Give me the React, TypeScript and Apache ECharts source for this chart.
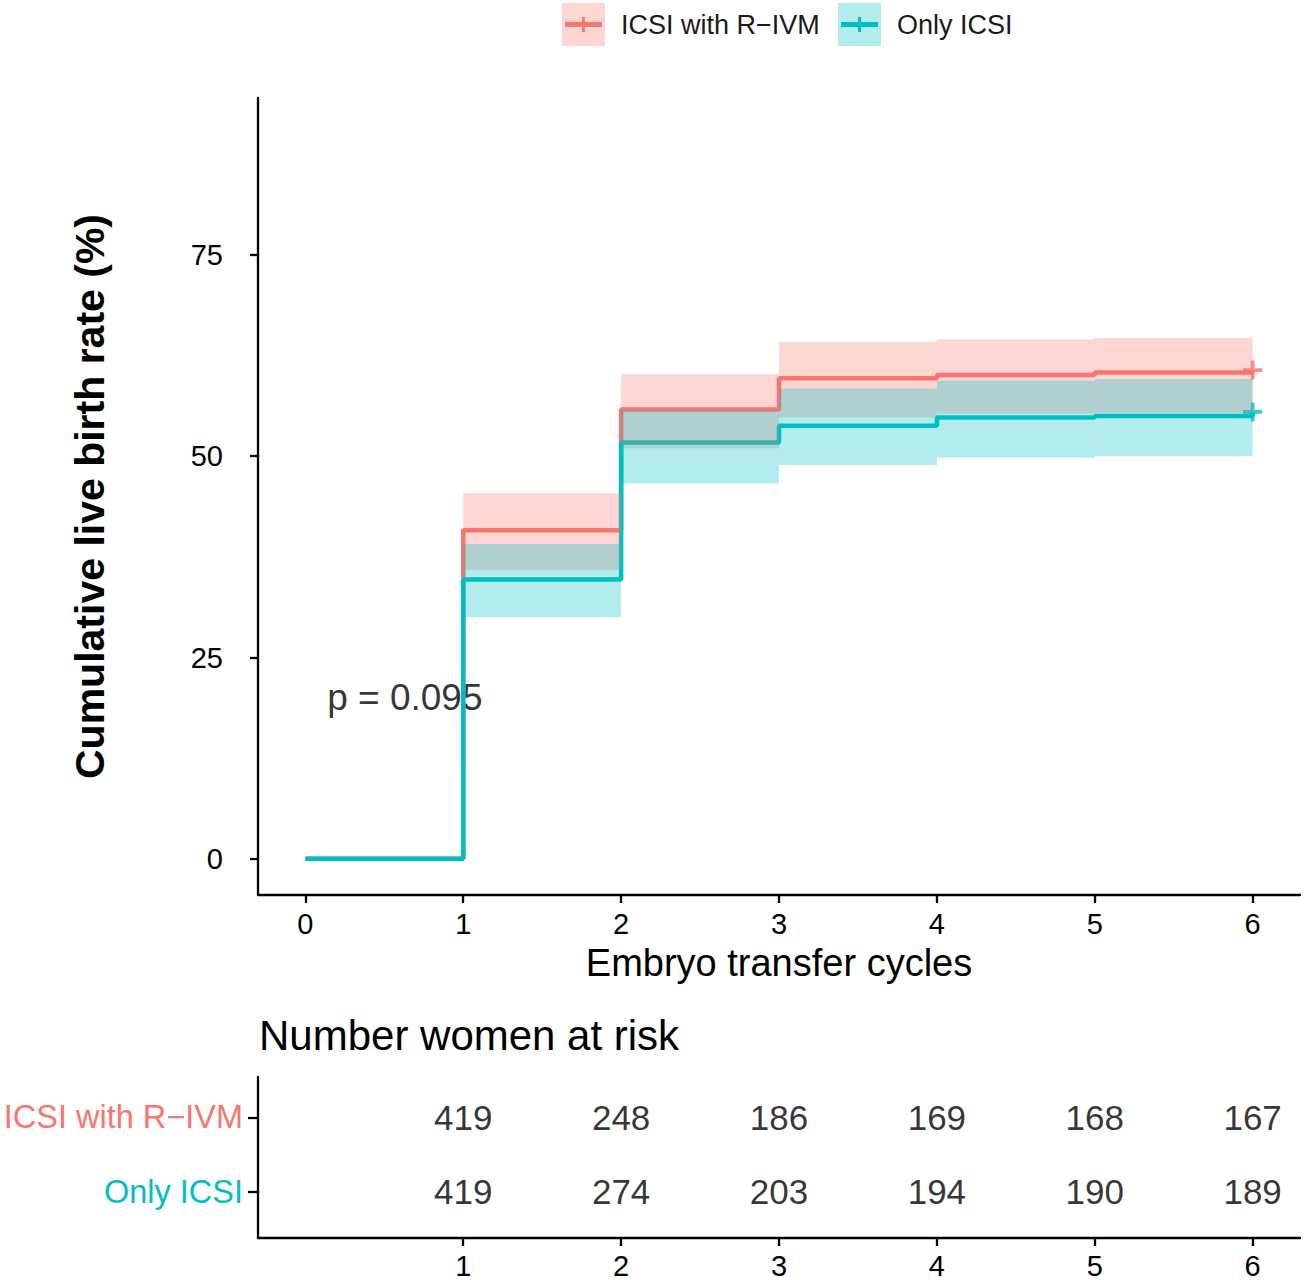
import React, { useEffect, useRef } from "react";
import * as echarts from "echarts";

// ---- data ----
const groupNames = ["ICSI with R−IVM", "Only ICSI"];
const groupColors = ["#F8766D", "#00BFC4"];
const groupBands = ["rgba(248,118,109,0.3)", "rgba(0,191,196,0.3)"];

const times = [0, 1, 2, 3, 4, 5, 6];
const ivmRate = [0, 40.8, 55.8, 59.7, 60.1, 60.4, 60.7];
const icsiRate = [0, 34.7, 51.7, 53.8, 54.8, 55.0, 55.5];

const bandStart = [1, 2, 3, 4, 5];
const bandEnd = [2, 3, 4, 5, 6];
const ivmUpper = [45.4, 60.2, 64.2, 64.5, 64.7];
const ivmLower = [35.9, 51.0, 54.8, 55.3, 55.4];
const icsiUpper = [39.1, 55.7, 58.4, 59.4, 59.6];
const icsiLower = [30.0, 46.6, 48.9, 49.8, 50.0];

const xTicks = [0, 1, 2, 3, 4, 5, 6];
const yTicks = [0, 25, 50, 75];

const riskTimes = [1, 2, 3, 4, 5, 6];
const ivmRisk = [419, 248, 186, 169, 168, 167];
const icsiRisk = [419, 274, 203, 194, 190, 189];

const pValueText = "p = 0.095";
const pValuePos = [0.63, 20];

const FONT = "'Liberation Sans', Arial, Helvetica, sans-serif";

export default function App() {
  const ref = useRef<HTMLDivElement>(null);

  useEffect(() => {
    if (!ref.current) return;
    const chart = echarts.init(ref.current, undefined, { renderer: "svg" });

    const rates = [ivmRate, icsiRate];
    const uppers = [ivmUpper, icsiUpper];
    const lowers = [ivmLower, icsiLower];
    const risks = [ivmRisk, icsiRisk];
    const rowValue = (i: number) => groupNames.length - i;

    const lineSeries = rates.map((r, gi) => ({
      type: "line",
      name: groupNames[gi],
      xAxisIndex: 0,
      yAxisIndex: 0,
      step: "end",
      symbol: "none",
      data: times.map((t, i) => [t, r[i]]),
      lineStyle: { color: groupColors[gi], width: 4.5 },
      itemStyle: { color: groupColors[gi] },
      z: 2 + gi,
      silent: true,
    }));

    const bandSeries = uppers.map((u, gi) => ({
      type: "custom",
      xAxisIndex: 0,
      yAxisIndex: 0,
      data: bandStart.map((s, i) => [s, bandEnd[i], lowers[gi][i], u[i]]),
      encode: { x: [0, 1], y: [2, 3] },
      renderItem: (params: any, api: any) => {
        const p0 = api.coord([api.value(0), api.value(3)]);
        const p1 = api.coord([api.value(1), api.value(2)]);
        return {
          type: "rect",
          shape: { x: p0[0], y: p0[1], width: p1[0] - p0[0], height: p1[1] - p0[1] },
          style: { fill: groupBands[gi] },
        };
      },
      z: 5 + gi,
      silent: true,
    }));

    const plusPath = "path://M4,0H6V4H10V6H6V10H4V6H0V4H4Z";
    const censorSeries = rates.map((r, gi) => ({
      type: "scatter",
      xAxisIndex: 0,
      yAxisIndex: 0,
      symbol: plusPath,
      symbolSize: 19,
      data: [[times[times.length - 1], r[r.length - 1]]],
      itemStyle: { color: groupColors[gi] },
      z: 4,
      silent: true,
    }));

    const pSeries = {
      type: "scatter",
      xAxisIndex: 0,
      yAxisIndex: 0,
      symbolSize: 1,
      itemStyle: { color: "rgba(0,0,0,0)" },
      data: [pValuePos],
      label: {
        show: true,
        position: "inside",
        formatter: pValueText,
        fontSize: 37,
        fontFamily: FONT,
        color: "#000",
      },
      z: 1,
      silent: true,
    };

    const riskSeries = risks.map((rk, gi) => ({
      type: "scatter",
      xAxisIndex: 1,
      yAxisIndex: 1,
      symbolSize: 1,
      itemStyle: { color: "rgba(0,0,0,0)" },
      data: riskTimes.map((t, i) => [t, rowValue(gi), rk[i]]),
      label: {
        show: true,
        position: "inside",
        formatter: (p: any) => String(p.value[2]),
        fontSize: 35,
        fontFamily: FONT,
        color: "#000",
      },
      silent: true,
    }));

    const legendGraphics: any[] = [];
    const legendX = [562, 838];
    groupNames.forEach((name, gi) => {
      const x = legendX[gi];
      legendGraphics.push(
        { type: "rect", shape: { x, y: 3, width: 43, height: 43 }, style: { fill: groupBands[gi] } },
        { type: "line", shape: { x1: x + 3, y1: 24.5, x2: x + 40, y2: 24.5 }, style: { stroke: groupColors[gi], lineWidth: 5 } },
        { type: "line", shape: { x1: x + 21.5, y1: 17, x2: x + 21.5, y2: 32 }, style: { stroke: groupColors[gi], lineWidth: 3 } },
        {
          type: "text",
          x: x + 59,
          y: 24.5,
          style: { text: name, fontSize: 27, fontFamily: FONT, fill: "#1a1a1a", verticalAlign: "middle", align: "left" },
        }
      );
    });
    legendGraphics.push({
      type: "text",
      x: 259,
      y: 1035,
      style: {
        text: "Number women at risk",
        fontSize: 42,
        fontFamily: FONT,
        fill: "#000",
        verticalAlign: "middle",
        align: "left",
      },
    });

    const axisLine = { show: true, onZero: false, lineStyle: { color: "#000", width: 2.3 } };
    const axisTickStyle = { color: "#000", width: 2.3 };

    chart.setOption({
      animation: false,
      backgroundColor: "#fff",
      textStyle: { fontFamily: FONT },
      grid: [
        { left: 258, top: 98, width: 1042, height: 797 },
        { left: 258, top: 1077, width: 1042, height: 163 },
      ],
      xAxis: [
        {
          type: "value",
          gridIndex: 0,
          min: -0.3,
          max: 6.3,
          axisLine,
          axisTick: { show: true, length: 8, lineStyle: axisTickStyle, customValues: xTicks },
          axisLabel: { customValues: xTicks, fontSize: 29, color: "#000", margin: 14, fontFamily: FONT },
          splitLine: { show: false },
          name: "Embryo transfer cycles",
          nameLocation: "middle",
          nameGap: 49,
          nameTextStyle: { fontSize: 38, color: "#000", fontFamily: FONT },
        },
        {
          type: "value",
          gridIndex: 1,
          min: -0.3,
          max: 6.3,
          axisLine,
          axisTick: { show: true, length: 8, lineStyle: axisTickStyle, customValues: riskTimes },
          axisLabel: { customValues: riskTimes, fontSize: 29, color: "#000", margin: 13, fontFamily: FONT },
          splitLine: { show: false },
        },
      ],
      yAxis: [
        {
          type: "value",
          gridIndex: 0,
          min: -4.5,
          max: 94.5,
          axisLine,
          axisTick: { show: true, length: 8, lineStyle: axisTickStyle, customValues: yTicks },
          axisLabel: { customValues: yTicks, fontSize: 29, color: "#000", margin: 35, fontFamily: FONT },
          splitLine: { show: false },
          name: "Cumulative live birth rate (%)",
          nameLocation: "middle",
          nameRotate: 90,
          nameGap: 148,
          nameTextStyle: { fontSize: 41, fontWeight: "bold", color: "#000", fontFamily: FONT },
        },
        {
          type: "value",
          gridIndex: 1,
          min: 0.373,
          max: 2.546,
          axisLine,
          axisTick: { show: true, length: 10, lineStyle: axisTickStyle, customValues: [1, 2] },
          axisLabel: {
            customValues: [1, 2],
            margin: 15,
            formatter: (v: number) => {
              const gi = groupNames.length - v;
              return `{g${gi}|${groupNames[gi]}}`;
            },
            rich: {
              g0: { color: groupColors[0], fontSize: 32.5, fontFamily: FONT },
              g1: { color: groupColors[1], fontSize: 32.5, fontFamily: FONT },
            },
          },
          splitLine: { show: false },
        },
      ],
      graphic: legendGraphics,
      series: [pSeries, ...lineSeries, ...censorSeries, ...bandSeries, ...riskSeries],
    });

    return () => {
      chart.dispose();
    };
  }, []);

  return (
    <div
      ref={ref}
      style={{ position: "fixed", left: 0, top: 0, width: 1304, height: 1280, background: "#fff" }}
    />
  );
}
